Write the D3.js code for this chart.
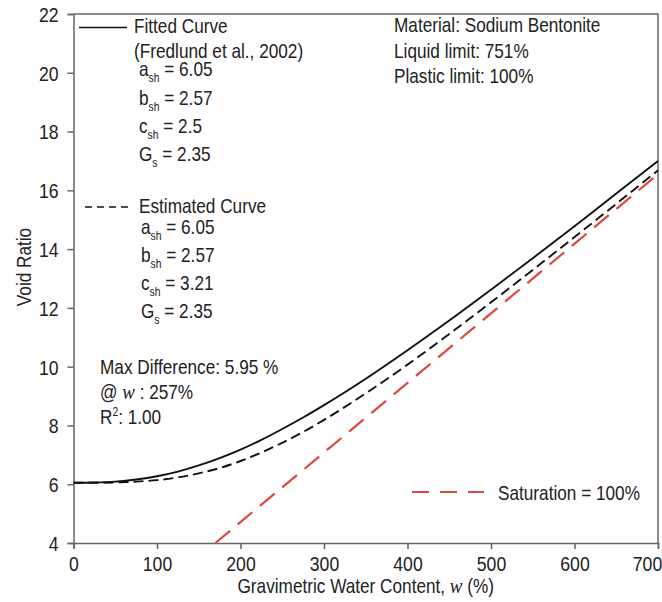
<!DOCTYPE html>
<html lang="en">
<head>
<meta charset="UTF-8">
<title>Void Ratio vs Gravimetric Water Content</title>
<style>
  body { margin: 0; background: #fff; }
  svg text { font-family: "Liberation Sans", Arial, sans-serif; fill: #222; }
  .axis path, .axis line { stroke: #666; stroke-width: 1.5px; }
  .frame { fill: none; stroke: #666; stroke-width: 1.5px; }
</style>
</head>
<body>
<div id="chart"></div>
<script src="https://cdn.jsdelivr.net/npm/d3@7/dist/d3.min.js"></script>
<script>
// values
const waterContent = [0, 25, 50, 75, 100, 125, 150, 175, 200, 225, 250, 275, 300, 350, 400, 450, 500, 550, 600, 650, 700];
const fittedVoid = [6.05, 6.06, 6.09, 6.16, 6.27, 6.43, 6.64, 6.89, 7.18, 7.51, 7.88, 8.27, 8.69, 9.59, 10.56, 11.57, 12.62, 13.69, 14.78, 15.89, 17.00];
const estimatedVoid = [6.05, 6.05, 6.06, 6.09, 6.14, 6.23, 6.37, 6.55, 6.79, 7.08, 7.41, 7.78, 8.19, 9.09, 10.07, 11.11, 12.19, 13.29, 14.41, 15.54, 16.68];
const saturationW = [170, 700];
const saturationVoid = [4.0, 16.55];
const xTicks = [0, 100, 200, 300, 400, 500, 600, 700];
const yTicks = [4, 6, 8, 10, 12, 14, 16, 18, 20, 22];

const width = 662, height = 602;
const margin = {top: 14, right: 4, bottom: 59, left: 73.5};
const squeeze = 0.86;   // the original lettering is a bit narrow

const svg = d3.select("#chart").append("svg")
  .attr("width", width)
  .attr("height", height);

const x = d3.scaleLinear().domain([0, 700]).range([margin.left, width - margin.right]);
const y = d3.scaleLinear().domain([4, 22]).range([height - margin.bottom, margin.top]);

// frame (top + right)
svg.append("path").attr("class", "frame")
  .attr("d", `M${x(0)},${y(22)}H${x(700)}V${y(4)}`);

// axes
const xAxis = svg.append("g").attr("class", "axis")
  .attr("transform", `translate(0,${y(4)})`)
  .call(d3.axisBottom(x).tickValues(xTicks).tickSizeOuter(0).tickSize(6));
xAxis.selectAll("text")
  .attr("y", null).attr("dy", null)
  .attr("transform", d => `translate(${d === 700 ? -11 : 0},28) scale(${squeeze},1)`)
  .style("font-size", "20.5px").style("fill", "#222");

const yAxis = svg.append("g").attr("class", "axis")
  .attr("transform", `translate(${x(0)},0)`)
  .call(d3.axisLeft(y).tickValues(yTicks).tickSizeOuter(0).tickSize(6));
yAxis.selectAll("text")
  .attr("x", null).attr("dy", "0.36em")
  .attr("transform", `translate(-15,0) scale(${squeeze},1)`)
  .style("font-size", "20.5px").style("fill", "#222");

// curves
const line = d3.line().x(d => x(d[0])).y(d => y(d[1])).curve(d3.curveMonotoneX);

svg.append("path")
  .datum(saturationW.map((w, i) => [w, saturationVoid[i]]))
  .attr("d", line)
  .attr("fill", "none").attr("stroke", "#e0463a").attr("stroke-width", 2.2)
  .attr("stroke-dasharray", "19,10");

svg.append("path")
  .datum(waterContent.map((w, i) => [w, estimatedVoid[i]]))
  .attr("d", line)
  .attr("fill", "none").attr("stroke", "#111").attr("stroke-width", 1.9)
  .attr("stroke-dasharray", "10,5");

svg.append("path")
  .datum(waterContent.map((w, i) => [w, fittedVoid[i]]))
  .attr("d", line)
  .attr("fill", "none").attr("stroke", "#111").attr("stroke-width", 1.9);

// text helper: parts are strings or {t, it}
function addText(px, py, parts, opts = {}) {
  const t = svg.append("text")
    .attr("transform", `translate(${px},${py}) ${opts.rotate ? "rotate(-90) " : ""}scale(${squeeze},1)`)
    .attr("text-anchor", opts.anchor || "start")
    .style("font-size", (opts.size || 20) + "px");
  parts.forEach(p => {
    if (typeof p === "string") { t.append("tspan").text(p); return; }
    const s = t.append("tspan").text(p.t);
    if (p.it) s.style("font-family", "'Liberation Serif', 'Times New Roman', serif")
      .style("font-style", "italic").style("font-size", "22px");
  });
  return t;
}

// legend samples
svg.append("line").attr("x1", 79).attr("x2", 127).attr("y1", 27.5).attr("y2", 27.5)
  .attr("stroke", "#111").attr("stroke-width", 1.4);
svg.append("line").attr("x1", 85).attr("x2", 133).attr("y1", 207).attr("y2", 207)
  .attr("stroke", "#111").attr("stroke-width", 1.4).attr("stroke-dasharray", "7,5");
svg.append("line").attr("x1", 412).attr("x2", 484).attr("y1", 492).attr("y2", 492)
  .attr("stroke", "#e0463a").attr("stroke-width", 2.2).attr("stroke-dasharray", "17,11");

function param(px, py, sym, sub, val) {
  const t = addText(px, py, [sym]);
  t.append("tspan").attr("dy", 6).style("font-size", "12px").text(sub);
  t.append("tspan").attr("dy", -6).text(" = " + val);
}

addText(134, 33, ["Fitted Curve"]);
addText(134, 58, ["(Fredlund et al., 2002)"]);
param(139, 76, "a", "sh", "6.05");
param(139, 104.5, "b", "sh", "2.57");
param(139, 133, "c", "sh", "2.5");
param(139, 161, "G", "s", "2.35");

addText(139, 212.5, ["Estimated Curve"]);
param(141, 234, "a", "sh", "6.05");
param(141, 262, "b", "sh", "2.57");
param(141, 290, "c", "sh", "3.21");
param(141, 318, "G", "s", "2.35");

addText(100, 374, ["Max Difference: 5.95 %"]);
addText(100, 399, ["@ ", {t: "w", it: true}, " : 257%"]);
{
  const r = addText(100, 424, ["R"]);
  r.append("tspan").attr("dy", -8).style("font-size", "12px").text("2");
  r.append("tspan").attr("dy", 8).text(": 1.00");
}

addText(394, 32, ["Material: Sodium Bentonite"]);
addText(394, 57.5, ["Liquid limit: 751%"]);
addText(394, 83, ["Plastic limit: 100%"]);

addText(498, 500, ["Saturation = 100%"]);

// axis titles
addText((x(0) + x(700)) / 2, 593, ["Gravimetric Water Content, ", {t: "w", it: true}, " (%)"], {anchor: "middle"});
addText(31, 267, ["Void Ratio"], {anchor: "middle", rotate: true});
</script>
</body>
</html>
